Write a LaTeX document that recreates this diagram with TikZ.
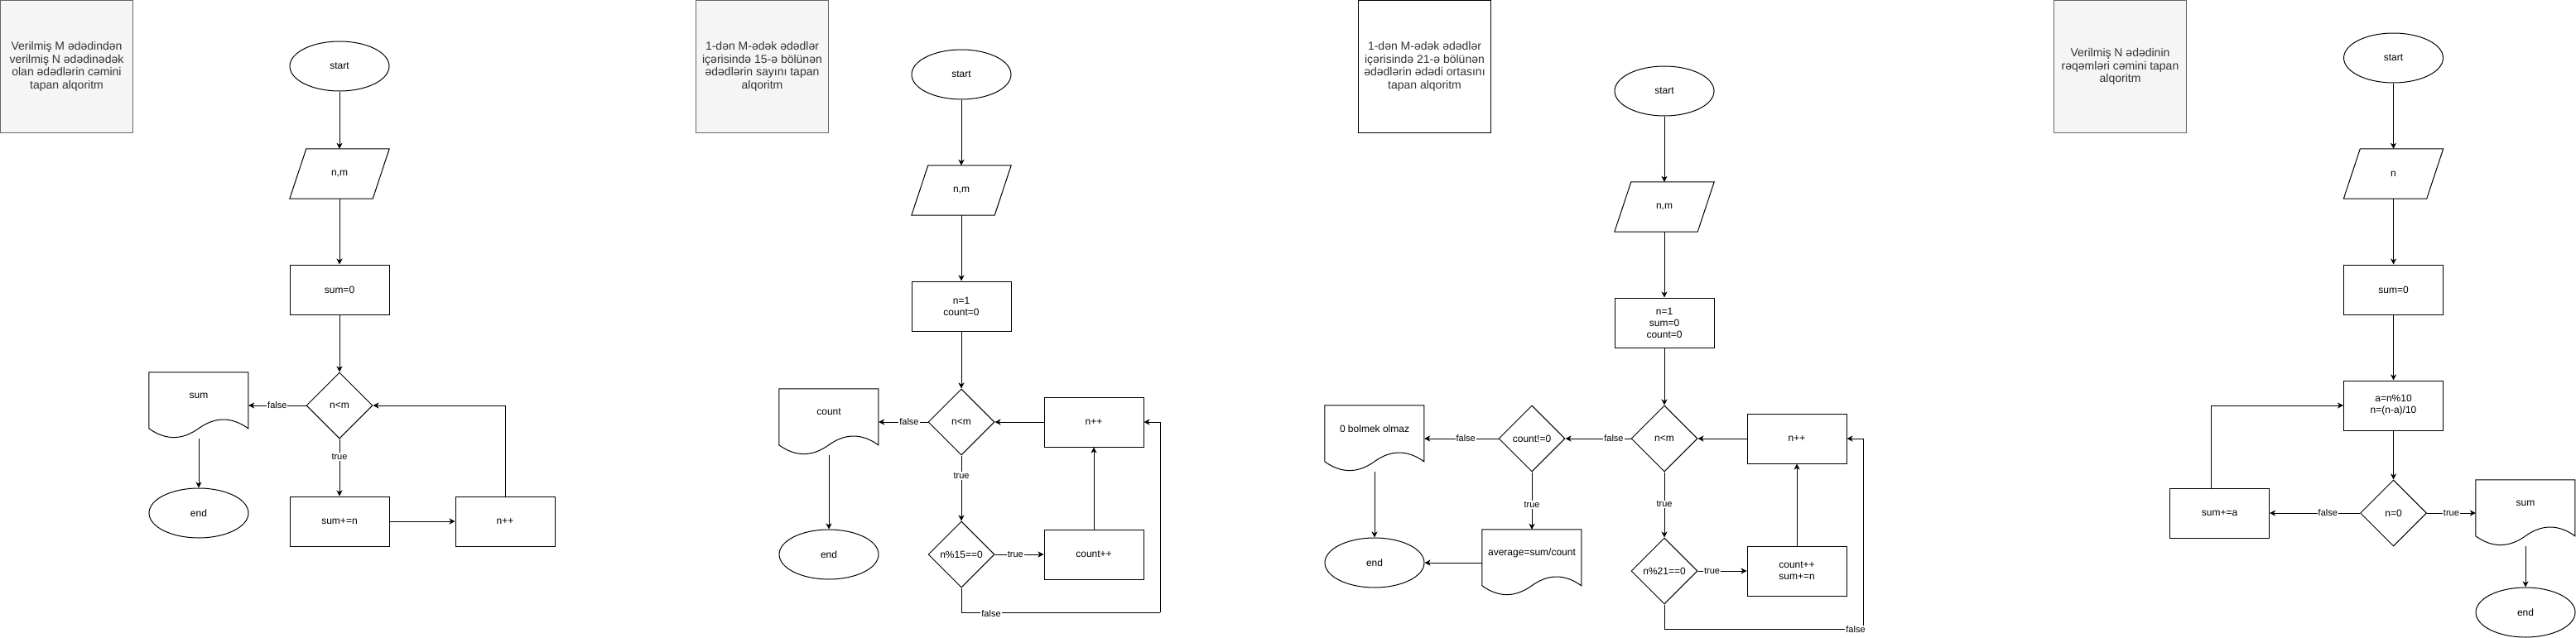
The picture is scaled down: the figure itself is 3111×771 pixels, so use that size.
\documentclass[tikz,border=0pt]{standalone}
\usepackage{fontspec}
\setmainfont{Liberation Sans}
\usetikzlibrary{shapes.geometric,arrows.meta,calc}
\definecolor{tfill}{HTML}{F5F5F5}
\definecolor{tline}{HTML}{666666}
\definecolor{ttext}{HTML}{333333}
\tikzset{
  shapeline/.style={draw=black,line width=1pt},
  titlegray/.style={rectangle,fill=tfill,draw=tline,line width=1pt,minimum width=160pt,minimum height=160pt,inner sep=0pt,text=ttext,align=center,font=\fontsize{14}{15.7}\selectfont},
  titlewhite/.style={titlegray,fill=white,draw=black},
  term/.style={ellipse,shapeline,minimum width=120pt,minimum height=60pt,inner sep=0pt},
  proc/.style={rectangle,shapeline,minimum width=120pt,minimum height=60pt,inner sep=0pt,align=center},
  iobox/.style={rectangle,minimum width=120pt,minimum height=60pt,inner sep=0pt},
  dec/.style={diamond,shapeline,minimum width=80pt,minimum height=80pt,inner sep=0pt},
  docbox/.style={rectangle,minimum width=120pt,minimum height=80pt,inner sep=0pt},
  docl/.style={yshift=12pt,inner sep=0pt},
  arr/.style={line width=1pt,-{Stealth[length=7pt,width=7pt,inset=2pt]}},
  plain/.style={line width=1pt},
  elab/.style={fill=white,inner sep=1pt,font=\fontsize{11}{13}\selectfont},
}
\newcommand\docshape[1]{\draw[shapeline,shift={(#1.north west)}] (0,0) -- (120,0) -- (120,68) .. controls (100,53.6) and (80,53.6) .. (60,68) .. controls (40,82.4) and (20,82.4) .. (0,68) -- cycle;}
\newcommand\ioshape[1]{\draw[shapeline] ([xshift=20pt]#1.north west) -- (#1.north east) -- ([xshift=-20pt]#1.south east) -- (#1.south west) -- cycle;}
\begin{document}
\begin{tikzpicture}[x=1pt,y=-1pt,font=\fontsize{12}{14}\selectfont]
\useasboundingbox[fill=white] (0,0) rectangle (3111,771);

% ---------- Panel 1 ----------
\node[titlegray] (t1) at (80.5,80.5) {Verilmiş M ədədindən\\verilmiş N ədədinədək\\olan ədədlərin cəmini\\tapan alqoritm};
\node[term] (p1start) at (410,80) {start};
\node[iobox] (p1in) at (410,210) {n,m}; \ioshape{p1in}
\node[proc] (p1init) at (410,350) {sum=0};
\node[dec] (p1cond) at (410,490) {n<m};
\node[docbox,label={[docl]center:sum}] (p1out) at (240,490) {}; \docshape{p1out}
\node[term] (p1end) at (240,620) {end};
\node[proc] (p1add) at (410,630) {sum+=n};
\node[proc] (p1inc) at (610,630) {n++};
\draw[arr] (p1start) -- (p1in);
\draw[arr] (p1in) -- (p1init);
\draw[arr] (p1init) -- (p1cond);
\draw[arr] (p1cond) -- node[elab,pos=0.5]{false} (p1out);
\draw[arr] (p1cond) -- node[elab,pos=0.31]{true} (p1add);
\draw[arr] (p1add) -- (p1inc);
\draw[arr] (p1inc.north) |- (p1cond.east);
\draw[arr] (p1out.south) -- (p1end);

% ---------- Panel 2 ----------
\node[titlegray] (t2) at (920.5,80.5) {1-dən M-ədək ədədlər\\içərisində 15-ə bölünən\\ədədlərin sayını tapan\\alqoritm};
\node[term] (p2start) at (1161,90) {start};
\node[iobox] (p2in) at (1161,230) {n,m}; \ioshape{p2in}
\node[proc] (p2init) at (1161,370) {n=1\\count=0};
\node[dec] (p2cond) at (1161,510) {n<m};
\node[docbox,label={[docl]center:count}] (p2out) at (1001,510) {}; \docshape{p2out}
\node[term] (p2end) at (1001,670) {end};
\node[dec] (p2mod) at (1161,670) {n\%15==0};
\node[proc] (p2cnt) at (1321,670) {count++};
\node[proc] (p2inc) at (1321,510) {n++};
\coordinate (p2c) at (1401,740);
\draw[arr] (p2start) -- (p2in);
\draw[arr] (p2in) -- (p2init);
\draw[arr] (p2init) -- (p2cond);
\draw[arr] (p2cond) -- node[elab,pos=0.38]{false} (p2out);
\draw[arr] (p2cond) -- node[elab,pos=0.31]{true} (p2mod);
\draw[arr] (p2mod) -- node[elab,pos=0.42]{true} (p2cnt);
\draw[arr] (p2cnt) -- (p2inc);
\draw[arr] (p2inc) -- (p2cond);
\draw[plain] (p2mod.south) |- node[elab,pos=0.575,yshift=-2pt]{false} (p2c);
\draw[arr] (p2c) |- (p2inc.east);
\draw[arr] (p2out.south) -- (p2end);

% ---------- Panel 3 ----------
\node[titlewhite] (t3) at (1720.5,80.5) {1-dən M-ədək ədədlər\\içərisində 21-ə bölünən\\ədədlərin ədədi ortasını\\tapan alqoritm};
\node[term] (p3start) at (2010,110) {start};
\node[iobox] (p3in) at (2010,250) {n,m}; \ioshape{p3in}
\node[proc] (p3init) at (2010,390) {n=1\\sum=0\\count=0};
\node[dec] (p3cond) at (2010,530) {n<m};
\node[dec] (p3chk) at (1850,530) {count!=0};
\node[docbox,label={[docl]center:0 bolmek olmaz}] (p3err) at (1660,530) {}; \docshape{p3err}
\node[term] (p3end) at (1660,680) {end};
\node[docbox,label={[docl]center:average=sum/count}] (p3avg) at (1850,680) {}; \docshape{p3avg}
\node[dec] (p3mod) at (2010,690) {n\%21==0};
\node[proc] (p3upd) at (2170,690) {count++\\sum+=n};
\node[proc] (p3inc) at (2170,530) {n++};
\coordinate (p3c) at (2250,760);
\draw[arr] (p3start) -- (p3in);
\draw[arr] (p3in) -- (p3init);
\draw[arr] (p3init) -- (p3cond);
\draw[arr] (p3cond) -- node[elab,pos=0.26]{false} (p3chk);
\draw[arr] (p3chk) -- node[elab,pos=0.44]{false} (p3err);
\draw[arr] (p3chk) -- node[elab,pos=0.57]{true} (p3avg);
\draw[arr] (p3avg.west) -- (p3end.east);
\draw[arr] (p3err.south) -- (p3end);
\draw[arr] (p3cond) -- node[elab,pos=0.49]{true} (p3mod);
\draw[arr] (p3mod) -- node[elab,pos=0.29]{true} (p3upd);
\draw[arr] (p3upd) -- (p3inc);
\draw[arr] (p3inc) -- (p3cond);
\draw[plain] (p3mod.south) |- (p3c);
\draw[arr] (p3c) |- (p3inc.east);
\node[elab] (p3f) at (2241,761) {false};

% ---------- Panel 4 ----------
\node[titlegray] (t4) at (2560.5,80.5) {Verilmiş N ədədinin\\rəqəmləri cəmini tapan\\alqoritm};
\node[term] (p4start) at (2890.5,70) {start};
\node[iobox] (p4in) at (2890.5,210) {n}; \ioshape{p4in}
\node[proc] (p4init) at (2890.5,350) {sum=0};
\node[proc] (p4calc) at (2890.5,490) {a=n\%10\\n=(n-a)/10};
\node[dec] (p4cond) at (2890.5,620) {n=0};
\node[proc] (p4add) at (2680.5,620) {sum+=a};
\node[docbox,label={[docl]center:sum}] (p4out) at (3050,620) {}; \docshape{p4out}
\node[term] (p4end) at (3050,740) {end};
\draw[arr] (p4start) -- (p4in);
\draw[arr] (p4in) -- (p4init);
\draw[arr] (p4init) -- (p4calc);
\draw[arr] (p4calc) -- (p4cond);
\draw[arr] (p4cond) -- node[elab,pos=0.355]{false} (p4add);
\draw[arr] (p4cond) -- node[elab,pos=0.5]{true} (p4out);
\draw[arr] ([xshift=-10pt]p4add.north) |- (p4calc.west);
\draw[arr] (p4out.south) -- (p4end);
\end{tikzpicture}
\end{document}
